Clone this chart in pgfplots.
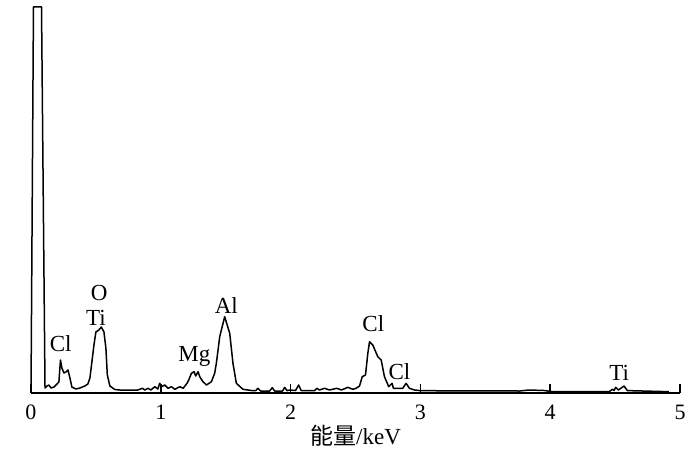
\documentclass[border=0pt]{standalone}
\usepackage{fontspec}
\setmainfont{Liberation Serif}
\newfontfamily\cjk{Noto Sans CJK SC}
\usepackage{pgfplots}
\pgfplotsset{compat=1.18}
\begin{document}
\begin{tikzpicture}
\useasboundingbox (-15.5pt,-36.5pt) rectangle (334.5pt,196.5pt);
\begin{axis}[
  at={(0,0)}, anchor=south west,
  scale only axis, width=324.5pt, height=196.5pt,
  xmin=0, xmax=5, ymin=0, ymax=393,
  axis x line=bottom, axis y line=none,
  axis line style={line width=1pt, -},
  xtick={0,1,2,3,4,5}, ytick=\empty,
  tick align=inside, major tick length=4.5pt,
  every tick/.style={black, line width=0.8pt},
  /pgf/number format/assume math mode=true,
  xticklabel style={font=\fontsize{11}{13}\selectfont, yshift=-2.3pt},
  xlabel={{\cjk 能量}/keV},
  xlabel style={at={(axis description cs:0.5,0)}, anchor=center, yshift=-21.5pt, font=\fontsize{11.5}{13}\selectfont},
  clip=false,
]
\addplot[black, line width=0.75pt, line join=round] coordinates {
(0,0) (0.019,386) (0.081,386) (0.108,5) (0.123,7) (0.138,8) (0.154,5) (0.177,6)
(0.2,9) (0.215,11) (0.227,33) (0.238,25) (0.254,20) (0.269,21) (0.285,23) (0.3,15)
(0.315,6) (0.346,4) (0.377,5) (0.415,7) (0.438,9) (0.454,15) (0.469,31) (0.485,48)
(0.5,61) (0.523,63) (0.542,66) (0.562,61) (0.577,45) (0.588,18) (0.608,7) (0.646,3.5)
(0.685,3) (0.823,3) (0.838,3.7) (0.859,4.7) (0.877,3) (0.902,4.7) (0.923,3) (0.954,6.3)
(0.977,4) (0.992,9.7) (1.005,6.3) (1.031,8) (1.056,4.7) (1.082,6.3) (1.108,3.7) (1.146,6.3)
(1.172,4.7) (1.202,9.7) (1.215,13) (1.236,19.7) (1.256,21.3) (1.269,17) (1.287,21.3) (1.3,16.3)
(1.325,11.3) (1.352,8) (1.39,11.3) (1.415,19.7) (1.428,29.7) (1.454,56.3) (1.492,76.3) (1.531,59.7)
(1.556,29.7) (1.582,9.7) (1.633,3.7) (1.71,2.3) (1.731,2.3) (1.748,4.7) (1.769,2) (1.838,2)
(1.859,5.3) (1.877,2) (1.938,2) (1.954,5.7) (1.973,2.3) (1.992,3) (2.038,2.5) (2.062,8)
(2.082,2.3) (2.185,2.3) (2.202,4.7) (2.223,3) (2.262,4.7) (2.3,3) (2.356,4.7) (2.392,3)
(2.441,5.7) (2.479,3.7) (2.505,4.7) (2.531,7) (2.552,16.3) (2.577,18) (2.595,39.7) (2.608,51.3)
(2.633,48) (2.672,36.3) (2.698,33) (2.723,16.3) (2.756,6.3) (2.782,9.7) (2.792,4.7) (2.864,4.7)
(2.89,9.7) (2.915,4.7) (2.954,3) (3.005,2.3) (3.762,2) (3.838,3) (3.954,2.5) (4.008,1.5)
(4.377,1.3) (4.454,1.3) (4.479,3.7) (4.492,2.5) (4.505,5.7) (4.525,3) (4.544,4.7) (4.569,7)
(4.595,2.3) (4.621,2.3) (4.915,1.3)
};
\begin{scope}[every node/.style={anchor=base, inner sep=0pt, font=\fontsize{11.5}{13}\selectfont}]
\node at (axis cs:0.525,93) {O};
\node at (axis cs:0.50,67.3) {Ti};
\node at (axis cs:0.229,41.3) {Cl};
\node at (axis cs:1.258,31.3) {Mg};
\node at (axis cs:1.505,79.7) {Al};
\node at (axis cs:2.637,61.3) {Cl};
\node at (axis cs:2.838,13.7) {Cl};
\node at (axis cs:4.531,13) {Ti};
\end{scope}
\end{axis}
\end{tikzpicture}
\end{document}
